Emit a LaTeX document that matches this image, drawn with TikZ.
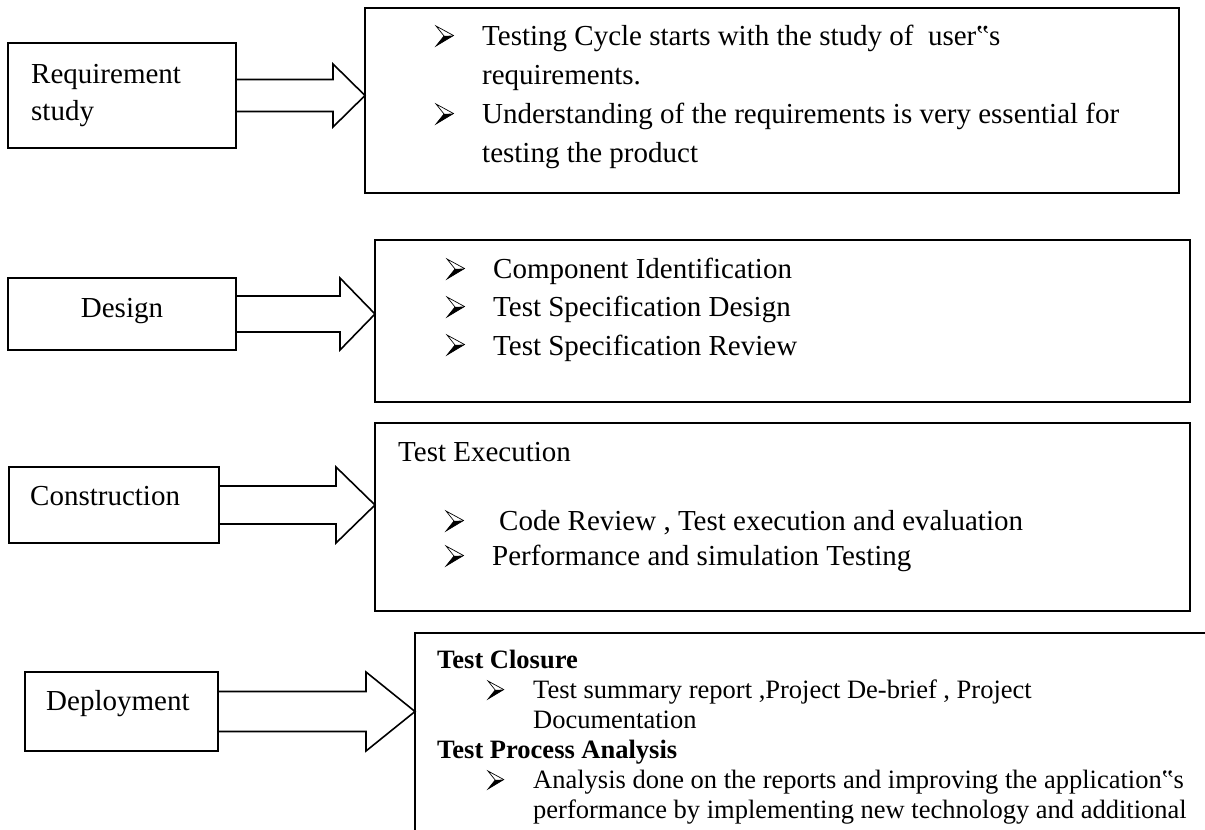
\documentclass[tikz,border=0pt]{standalone}
\usepackage{fontspec}
\setmainfont{Liberation Serif}
\usetikzlibrary{calc}
\tikzset{
  frame/.style={draw, line width=1.6pt, inner sep=0pt, outer sep=0pt, rectangle, anchor=north west},
  lbl/.style={anchor=base west, inner sep=0pt, font=\fontsize{29}{34}\selectfont},
  txt/.style={anchor=base west, inner sep=0pt, font=\fontsize{29}{34}\selectfont},
  smalltxt/.style={anchor=base west, inner sep=0pt, font=\fontsize{26.5}{30}\selectfont},
  boldtxt/.style={anchor=base west, inner sep=0pt, font=\fontsize{26.5}{30}\selectfont\bfseries},
  blk/.style={draw, line width=1.6pt, line join=miter},
  arrbul/.pic={
    \fill[black] (0,0) -- (17.5,10.5) -- (8,10) -- cycle;
    \draw[line width=0.7pt, line join=miter] (0,20) -- (17.5,10.5) -- (0,0) -- (8,10) -- cycle;
  },
}
\newcommand\blockarrow[5]{%
  \draw[blk] let \p1=(#1.east), \p2=(#2.west) in
    (\x1,\y1+#3) -- (\x2-#5,\y1+#3) -- (\x2-#5,\y1+#4) -- (\x2,\y1)
    -- (\x2-#5,\y1-#4) -- (\x2-#5,\y1-#3) -- (\x1,\y1-#3);}
\begin{document}
\begin{tikzpicture}[x=1pt,y=1pt]
\useasboundingbox (0,0) rectangle (1205,-830);
\fill[white] (0,0) rectangle (1205,-830);

% left boxes
\node[frame, minimum width=228pt, minimum height=105pt] (rq) at (8,-43) {};
\node[frame, minimum width=228pt, minimum height=72pt] (ds) at (8,-278) {};
\node[frame, minimum width=210pt, minimum height=76pt] (cs) at (9,-467) {};
\node[frame, minimum width=193pt, minimum height=79pt] (dp) at (25,-672) {};

% right boxes
\node[frame, minimum width=814pt, minimum height=185pt] (rqr) at (365,-8) {};
\node[frame, minimum width=815pt, minimum height=162pt] (dsr) at (375,-240) {};
\node[frame, minimum width=815pt, minimum height=188pt] (csr) at (375,-423) {};
\node[frame, minimum width=820pt, minimum height=230pt] (dpr) at (415,-633) {};

% block arrows
\blockarrow{rq}{rqr}{16pt}{31.5pt}{32pt}
\blockarrow{ds}{dsr}{18pt}{36pt}{35pt}
\blockarrow{cs}{csr}{19pt}{38pt}{39pt}
\blockarrow{dp}{dpr}{20pt}{39.5pt}{49pt}

% left labels
\node[lbl] (l1a) at (31,-83) {Requirement};
\node[lbl] (l1b) at (31,-120) {study};
\node[lbl, anchor=base] (l2) at (122,-317) {Design};
\node[lbl] (l3) at (30,-505) {Construction};
\node[lbl] (l4) at (46,-710) {Deployment};

% box 1
\pic (b11) at (436,-46) {arrbul};
\node[txt] (t11) at (482,-45) {Testing Cycle starts with the study of \ user‟s};
\node[txt] (t12) at (482,-84) {requirements.};
\pic (b12) at (436,-124) {arrbul};
\node[txt] (t13) at (482,-123) {Understanding of the requirements is very essential for};
\node[txt] (t14) at (482,-162) {testing the product};

% box 2
\pic (b21) at (447,-279) {arrbul};
\node[txt] (t21) at (493,-278) {Component Identification};
\pic (b22) at (447,-317) {arrbul};
\node[txt] (t22) at (493,-316.5) {Test Specification Design};
\pic (b23) at (447,-355) {arrbul};
\node[txt] (t23) at (493,-355) {Test Specification Review};

% box 3
\node[txt] (t30) at (398,-461) {Test Execution};
\pic (b31) at (446,-531) {arrbul};
\node[txt] (t31) at (499,-530) {Code Review , Test execution and evaluation};
\pic (b32) at (446,-566) {arrbul};
\node[txt] (t32) at (492,-565) {Performance and simulation Testing};

% box 4
\node[boldtxt] (h41) at (437,-668) {Test Closure};
\pic[scale=0.9] (b41) at (488,-699) {arrbul};
\node[smalltxt] (t41) at (533,-698) {Test summary report ,Project De-brief , Project};
\node[smalltxt] (t42) at (533,-728) {Documentation};
\node[boldtxt] (h42) at (437,-758) {Test Process Analysis};
\pic[scale=0.9] (b42) at (488,-789) {arrbul};
\node[smalltxt] (t43) at (533,-788) {Analysis done on the reports and improving the application‟s};
\node[smalltxt] (t44) at (533,-818) {performance by implementing new technology and additional};
\end{tikzpicture}
\end{document}
